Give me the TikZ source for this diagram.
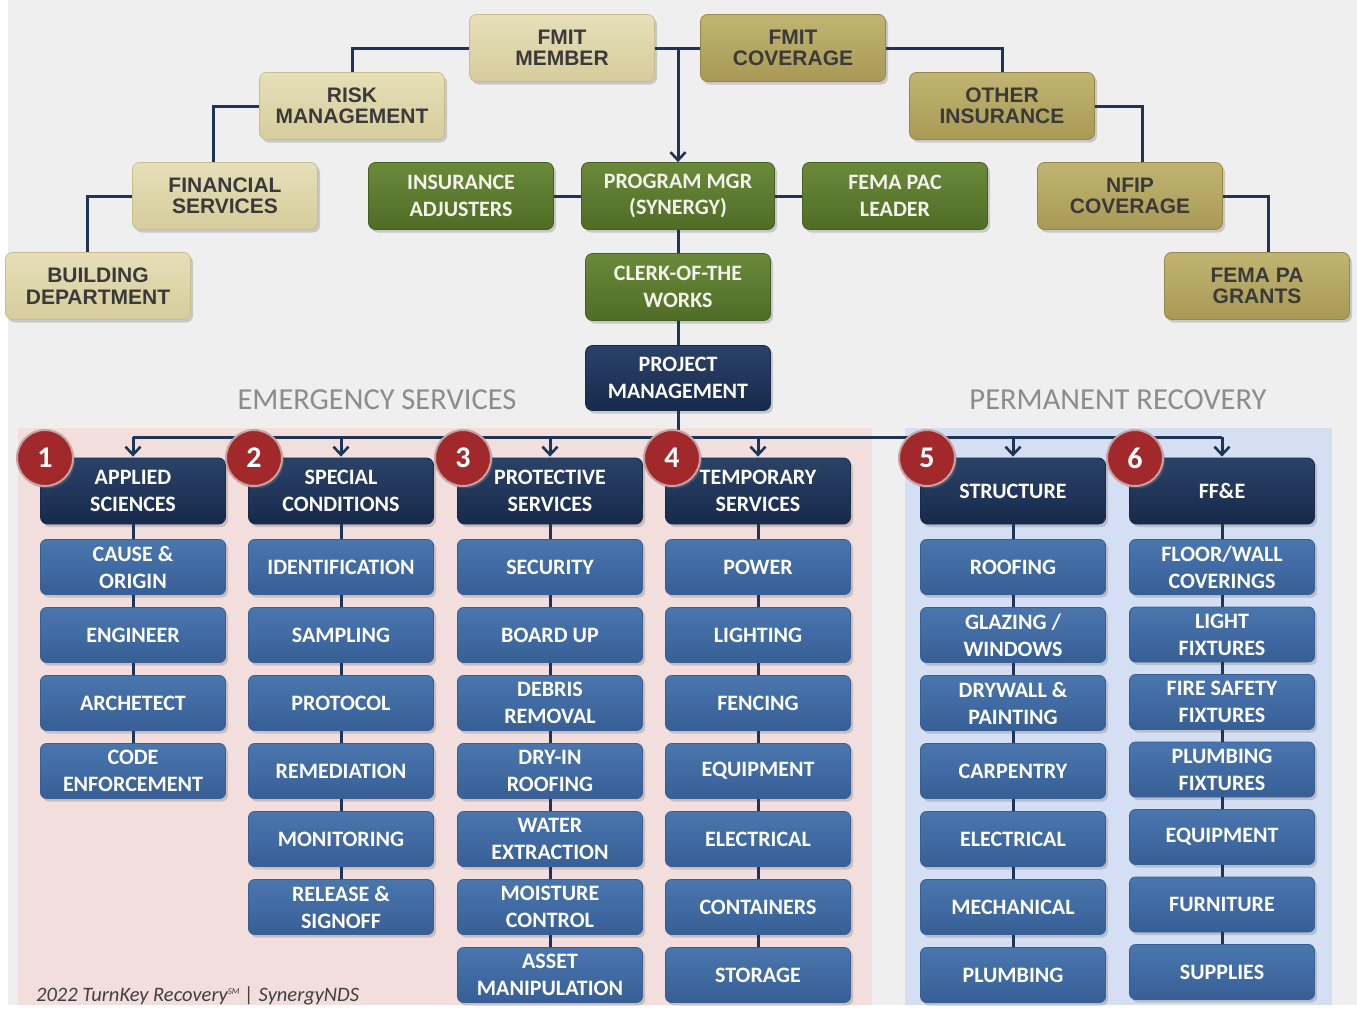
\documentclass[tikz,border=0pt]{standalone}
\usepackage{fontspec}
\setmainfont{Carlito}
\newfontfamily\arialf{Liberation Sans}
\usetikzlibrary{shadows,arrows.meta}

\definecolor{bgC}{HTML}{EFEFEF}
\definecolor{pinkC}{HTML}{F2DEDD}
\definecolor{lblueC}{HTML}{D5DFF3}
\definecolor{lineC}{HTML}{1E3557}
\definecolor{tanAt}{HTML}{E6DFB8}
\definecolor{tanAb}{HTML}{D6CC9C}
\definecolor{tanAd}{HTML}{C9BE8A}
\definecolor{tanBt}{HTML}{C1B472}
\definecolor{tanBb}{HTML}{A89A55}
\definecolor{tanBd}{HTML}{978945}
\definecolor{tanTxt}{HTML}{3A3A3A}
\definecolor{grnT}{HTML}{6A8A3A}
\definecolor{grnB}{HTML}{4F6C25}
\definecolor{grnD}{HTML}{455F20}
\definecolor{navT}{HTML}{2B4268}
\definecolor{navB}{HTML}{172A4B}
\definecolor{bluT}{HTML}{4A76AE}
\definecolor{bluB}{HTML}{375F96}
\definecolor{redC}{HTML}{A2292B}
\definecolor{redRim}{HTML}{C8A3A3}
\definecolor{secC}{HTML}{8C8C8C}
\definecolor{footC}{HTML}{404040}
\definecolor{wtxt}{HTML}{F4F4EC}

\newcommand\mycol[5]{%
  \foreach \t [count=\i, remember=\i as \j (initially 0)] in {#3} {
    \node[item] (#1r\i) at (#2, {567+#4*(\i-1)}) {\t};
    \ifnum\i=1 \draw[conn] (#1.south) -- (#1r\i.north);
    \else \draw[conn] (#1r\j.south) -- (#1r\i.north); \fi
  }}

\begin{document}
\begin{tikzpicture}[x=1pt,y=-1pt,
  conn/.style={draw=lineC, line width=3pt},
  arr/.style={conn, -{Straight Barb[length=8pt,width=15pt,line width=2.6pt]}},
  box/.style={rounded corners=7pt, minimum width=185pt, minimum height=67pt, align=center, inner sep=0pt,
    drop shadow={shadow xshift=2.5pt, shadow yshift=-3pt, opacity=0.35}},
  tanA/.style={box, top color=tanAt, bottom color=tanAb, draw=tanAd, line width=0.8pt, text=tanTxt,
    font=\arialf\bfseries\fontsize{21}{21.5}\selectfont},
  tanB/.style={box, top color=tanBt, bottom color=tanBb, draw=tanBd, line width=0.8pt, text=tanTxt,
    font=\arialf\bfseries\fontsize{21}{21.5}\selectfont},
  grn/.style={box, top color=grnT, bottom color=grnB, draw=grnD, line width=0.8pt, text=wtxt,
    font=\bfseries\fontsize{22}{26.5}\selectfont},
  nav/.style={box, top color=navT, bottom color=navB, draw=navB, line width=0.8pt, text=white,
    minimum height=66pt, font=\bfseries\fontsize{22}{26.5}\selectfont},
  item/.style={box, top color=bluT, bottom color=bluB, draw=bluB, line width=0.8pt, text=white,
    minimum height=55pt, rounded corners=6pt, font=\bfseries\fontsize{22}{27}\selectfont},
  num/.style={circle, minimum size=56pt, inner sep=0pt, fill=redC, draw=redRim, line width=2pt, text=white,
    font=\bfseries\fontsize{30}{30}\selectfont,
    drop shadow={shadow xshift=2pt, shadow yshift=-2.5pt, opacity=0.35}},
  sec/.style={text=secC, font=\fontsize{30.5}{32}\selectfont, inner sep=0pt}
]
\useasboundingbox (0,0) rectangle (1357,1009);
\fill[white] (0,0) rectangle (1357,1009);
\fill[bgC] (8,0) rectangle (1357,1005);
% panels
\fill[pinkC] (18,428) rectangle (872,1005);
\fill[lblueC] (905,428) rectangle (1332,1005);

% top tier
\node[tanA] (mem) at (562,48) {FMIT\\MEMBER};
\node[tanB] (cov) at (793,48) {FMIT\\COVERAGE};
\node[tanA] (risk) at (352,106) {RISK\\MANAGEMENT};
\node[tanB] (oth) at (1002,106) {OTHER\\INSURANCE};
\node[tanA] (fin) at (225,196) {FINANCIAL\\SERVICES};
\node[tanB] (nfip) at (1130,196) {NFIP\\COVERAGE};
\node[tanA] (bld) at (98,286) {BUILDING\\DEPARTMENT};
\node[tanB] (fema) at (1257,286) {FEMA PA\\GRANTS};

\node[grn] (ins) at (461,196) {INSURANCE\\ADJUSTERS};
\node[grn, minimum width=193pt] (pm) at (678,196) {PROGRAM MGR\\(SYNERGY)};
\node[grn] (pac) at (895,196) {FEMA PAC\\LEADER};
\node[grn] (clerk) at (678,287) {CLERK-OF-THE\\WORKS};
\node[nav, minimum height=65pt] (proj) at (678,378) {PROJECT\\MANAGEMENT};

% top connectors
\draw[conn] (mem.west) -| (risk.north);
\draw[conn] (risk.west) -| ([xshift=-12pt]fin.north);
\draw[conn] (fin.west) -| ([xshift=-11pt]bld.north);
\draw[conn] (cov.east) -| (oth.north);
\draw[conn] (oth.east) -| ([xshift=12pt]nfip.north);
\draw[conn] (nfip.east) -| ([xshift=11pt]fema.north);
\draw[conn] (mem.east) -- (cov.west);
\draw[arr] (mem.east -| pm.north) -- (pm.north);
\draw[conn] (ins.east) -- (pm.west);
\draw[conn] (pm.east) -- (pac.west);
\draw[conn] (pm.south) -- (clerk.north);
\draw[conn] (clerk.south) -- (proj.north);

% section labels
\node[sec] (es) at (377,400) {EMERGENCY SERVICES};
\node[sec] (pr) at (1118,400) {PERMANENT RECOVERY};

% headers
\node[nav] (h1) at (133,491) {APPLIED\\SCIENCES};
\node[nav] (h2) at (341,491) {SPECIAL\\CONDITIONS};
\node[nav] (h3) at (550,491) {PROTECTIVE\\SERVICES};
\node[nav] (h4) at (758,491) {TEMPORARY\\SERVICES};
\node[nav] (h5) at (1013,491) {STRUCTURE};
\node[nav] (h6) at (1222,491) {FF\&E};

\coordinate (bus) at (678,437);
\draw[conn] (proj.south) -- (bus);
\draw[conn] (h1.north |- bus) -- (h6.north |- bus);
\foreach \k in {1,...,6} { \draw[arr] (h\k.north |- bus) -- ([yshift=1pt]h\k.north); }

% columns
\mycol{h1}{133}{{CAUSE \&\\ORIGIN},ENGINEER,ARCHETECT,{CODE\\ENFORCEMENT}}{68}{}
\mycol{h2}{341}{IDENTIFICATION,SAMPLING,PROTOCOL,REMEDIATION,MONITORING,{RELEASE \&\\SIGNOFF}}{68}{}
\mycol{h3}{550}{SECURITY,BOARD UP,{DEBRIS\\REMOVAL},{DRY-IN\\ROOFING},{WATER\\EXTRACTION},{MOISTURE\\CONTROL},{ASSET\\MANIPULATION}}{68}{}
\mycol{h4}{758}{POWER,LIGHTING,FENCING,EQUIPMENT,ELECTRICAL,CONTAINERS,STORAGE}{68}{}
\mycol{h5}{1013}{ROOFING,{GLAZING /\\WINDOWS},{DRYWALL \&\\PAINTING},CARPENTRY,ELECTRICAL,MECHANICAL,PLUMBING}{68}{}
\mycol{h6}{1222}{{FLOOR/WALL\\COVERINGS},{LIGHT\\FIXTURES},{FIRE SAFETY\\FIXTURES},{PLUMBING\\FIXTURES},EQUIPMENT,FURNITURE,SUPPLIES}{67.5}{}

% number badges
\node[num] (n1) at (45,458) {1};
\node[num] (n2) at (254,458) {2};
\node[num] (n3) at (463,458) {3};
\node[num] (n4) at (672,458) {4};
\node[num] (n5) at (927,458) {5};
\node[num] (n6) at (1135,458) {6};

% footer
\node[anchor=west, inner sep=0pt, text=footC, font=\itshape\fontsize{20.5}{21}\selectfont] (foot) at (36,996)
  {2022 TurnKey Recovery\textsuperscript{\fontsize{9}{9}\selectfont SM} | SynergyNDS};
\end{tikzpicture}
\end{document}
